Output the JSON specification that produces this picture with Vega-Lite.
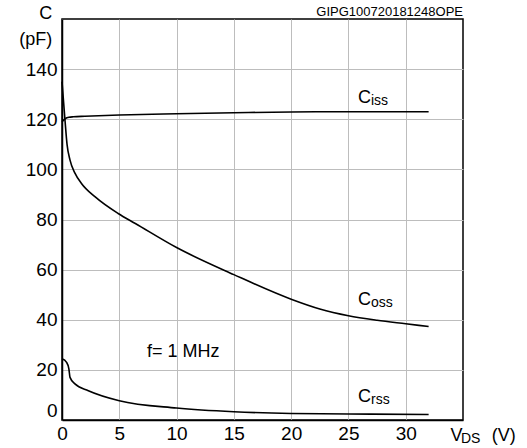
{
  "$schema": "https://vega.github.io/schema/vega-lite/v6.json",
  "autosize": "none",
  "padding": {"left": 62, "top": 19, "right": 64, "bottom": 28},
  "width": 401,
  "height": 401,
  "config": {
    "font": "Liberation Sans",
    "view": {"stroke": "black", "strokeWidth": 1.5},
    "axis": {
      "grid": true, "gridColor": "#bdbdbd", "gridWidth": 1,
      "ticks": false, "domainColor": "black", "domainWidth": 1.5,
      "labelFont": "Liberation Sans", "labelFontSize": 19, "labelColor": "black",
      "title": null
    }
  },
  "layer": [
    {
      "data": {"values": [
        {"series": "Ciss", "x": 0, "y": 119}, {"series": "Ciss", "x": 0.3, "y": 120.3}, {"series": "Ciss", "x": 0.6, "y": 120.8},
        {"series": "Ciss", "x": 1, "y": 121}, {"series": "Ciss", "x": 2, "y": 121.2}, {"series": "Ciss", "x": 5, "y": 121.7},
        {"series": "Ciss", "x": 10, "y": 122.2}, {"series": "Ciss", "x": 15, "y": 122.6}, {"series": "Ciss", "x": 20, "y": 122.9},
        {"series": "Ciss", "x": 25, "y": 123}, {"series": "Ciss", "x": 32, "y": 123},
        {"series": "Coss", "x": 0, "y": 135}, {"series": "Coss", "x": 0.26, "y": 119.7}, {"series": "Coss", "x": 0.44, "y": 110},
        {"series": "Coss", "x": 0.7, "y": 103.7}, {"series": "Coss", "x": 1.13, "y": 98.5}, {"series": "Coss", "x": 1.7, "y": 94.4},
        {"series": "Coss", "x": 2.9, "y": 89}, {"series": "Coss", "x": 4.9, "y": 82.4}, {"series": "Coss", "x": 6.4, "y": 78.4},
        {"series": "Coss", "x": 10, "y": 68.8}, {"series": "Coss", "x": 15, "y": 58}, {"series": "Coss", "x": 20, "y": 48.2},
        {"series": "Coss", "x": 22.5, "y": 44.3}, {"series": "Coss", "x": 25, "y": 41.6}, {"series": "Coss", "x": 27.5, "y": 39.8},
        {"series": "Coss", "x": 30, "y": 38.4}, {"series": "Coss", "x": 32, "y": 37.3},
        {"series": "Crss", "x": 0, "y": 24.4}, {"series": "Crss", "x": 0.4, "y": 23}, {"series": "Crss", "x": 0.6, "y": 20.4},
        {"series": "Crss", "x": 0.7, "y": 17}, {"series": "Crss", "x": 1.13, "y": 14.4}, {"series": "Crss", "x": 2.3, "y": 11.7},
        {"series": "Crss", "x": 5, "y": 7.7}, {"series": "Crss", "x": 10, "y": 4.8}, {"series": "Crss", "x": 15, "y": 3.3},
        {"series": "Crss", "x": 20, "y": 2.6}, {"series": "Crss", "x": 25, "y": 2.4}, {"series": "Crss", "x": 32, "y": 2.2}
      ]},
      "mark": {"type": "line", "color": "black", "strokeWidth": 1.6, "interpolate": "monotone"},
      "encoding": {
        "x": {"field": "x", "type": "quantitative", "scale": {"domain": [0, 35], "nice": false},
              "axis": {"values": [0, 5, 10, 15, 20, 25, 30], "labelPadding": 4, "labelFlush": false}},
        "y": {"field": "y", "type": "quantitative", "scale": {"domain": [0, 160], "nice": false},
              "axis": {"values": [0, 20, 40, 60, 80, 100, 120, 140], "labelPadding": 5, "labelFlush": true}},
        "detail": {"field": "series", "type": "nominal"}
      }
    },
    {
      "data": {"values": [
        {"t": "C", "x": 25.83, "y": 126.5},
        {"t": "C", "x": 25.83, "y": 45.7},
        {"t": "C", "x": 25.83, "y": 7.0},
        {"t": "V", "x": 33.9, "y": -8.3},
        {"t": "(V)", "x": 37.52, "y": -8.3},
        {"t": "f= 1 MHz", "x": 7.42, "y": 25.3}
      ]},
      "mark": {"type": "text", "align": "left", "baseline": "alphabetic", "fontSize": 18, "color": "black"},
      "encoding": {"x": {"field": "x", "type": "quantitative"}, "y": {"field": "y", "type": "quantitative"}, "text": {"field": "t"}}
    },
    {
      "data": {"values": [
        {"t": "iss", "x": 26.97, "y": 126.5},
        {"t": "oss", "x": 26.97, "y": 45.7},
        {"t": "rss", "x": 26.97, "y": 7.0},
        {"t": "DS", "x": 34.82, "y": -8.3}
      ]},
      "mark": {"type": "text", "align": "left", "baseline": "alphabetic", "fontSize": 14, "color": "black", "dy": 2},
      "encoding": {"x": {"field": "x", "type": "quantitative"}, "y": {"field": "y", "type": "quantitative"}, "text": {"field": "t"}}
    },
    {
      "data": {"values": [
        {"t": "C", "x": -0.85, "y": 160.1},
        {"t": "(pF)", "x": -0.85, "y": 149.7}
      ]},
      "mark": {"type": "text", "align": "right", "baseline": "alphabetic", "fontSize": 18, "color": "black"},
      "encoding": {"x": {"field": "x", "type": "quantitative"}, "y": {"field": "y", "type": "quantitative"}, "text": {"field": "t"}}
    },
    {
      "data": {"values": [{"t": "GIPG100720181248OPE", "x": 35, "y": 161.3}]},
      "mark": {"type": "text", "align": "right", "baseline": "alphabetic", "fontSize": 13, "color": "black"},
      "encoding": {"x": {"field": "x", "type": "quantitative"}, "y": {"field": "y", "type": "quantitative"}, "text": {"field": "t"}}
    }
  ]
}
